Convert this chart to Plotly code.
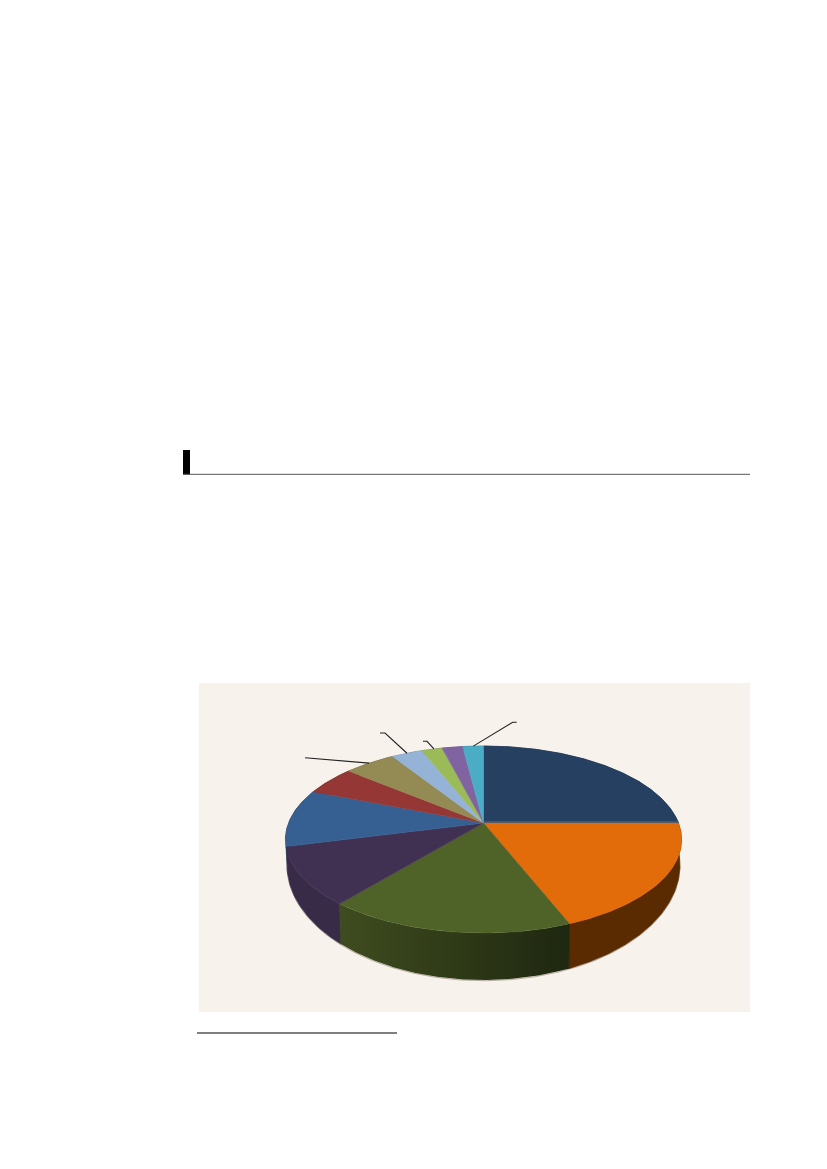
import math
import plotly.graph_objects as go

# Slice shares in percent, clockwise from 12 o'clock
slice_names = ["A", "B", "C", "D", "E", "F", "G", "H", "I", "J", "K"]
slice_values = [25, 19, 17, 10, 10, 5, 5, 3, 2, 2, 2]
top_colors = ["#254061", "#E26B0A", "#4F6228", "#403152", "#366092", "#953735",
              "#948A54", "#95B3D7", "#9BBB59", "#8064A2", "#4BACC6"]
side_colors = ["#16263a", "#5A2B00", "#2F3A18", "#382B48", "#203a58", "#592120",
               "#595332", "#597081", "#5d7035", "#4d3c61", "#2d6777"]

# Page frame (pixels)
W, H = 827, 1169
CX, CY = 483.5, 823
BX, AY, K = 195.0, 90.6, 0.1765   # perspective projection of the disc
DEPTH, BOTTOM_X, BOTTOM_Y = 21.7, 0.992, 1.23


def project(deg, bottom=False):
    """Clockwise angle from 12 o'clock -> page position on the tilted disc."""
    a = math.radians(deg)
    u, v = math.sin(a), -math.cos(a)
    d = 1 - K * v
    x, y = BX * u / d, AY * v / d
    if bottom:
        return CX + x * BOTTOM_X, CY + y * BOTTOM_Y + DEPTH
    return CX + x, CY + y


def arc(a0, a1, bottom=False):
    n = max(2, int(abs(a1 - a0) * 2))
    pts = [project(a0 + (a1 - a0) * i / n, bottom) for i in range(n + 1)]
    return [p[0] for p in pts], [p[1] for p in pts]


total = sum(slice_values)
edges = [0.0]
for val in slice_values:
    edges.append(edges[-1] + 360.0 * val / total)

fig = go.Figure()

# soft edge below the disc
sx, sy = arc(90, 270, True)
fig.add_trace(go.Scatter(x=sx, y=[v + 0.7 for v in sy], mode="lines",
                         line=dict(color="#b5aca2", width=1), hoverinfo="skip", showlegend=False))

# Side wall
for i, name in enumerate(slice_names):
    tx, ty = arc(edges[i], edges[i + 1])
    bx, by = arc(edges[i + 1], edges[i], True)
    kw = dict(fillcolor=side_colors[i])
    if i == 2:
        kw = dict(fillgradient=dict(type="horizontal",
                                    colorscale=[[0, "#3F4C1F"], [0.5, "#2F3A17"], [1, "#1E2710"]]))
    fig.add_trace(go.Scatter(x=tx + bx, y=ty + by, mode="lines", fill="toself",
                             line=dict(color=side_colors[i] if i != 2 else "rgba(0,0,0,0)", width=0.5),
                             hoverinfo="skip", showlegend=False, name=name, **kw))

# close the seams either side of the shaded wall
for deg, col in ((edges[3], "#3A4620"), (edges[2], "#1E2710")):
    p0, p1 = project(deg), project(deg, True)
    fig.add_trace(go.Scatter(x=[p0[0], p1[0]], y=[p0[1], p1[1]], mode="lines",
                             line=dict(color=col, width=1), hoverinfo="skip", showlegend=False))

# Top face
for i, name in enumerate(slice_names):
    rx, ry = arc(edges[i], edges[i + 1])
    fig.add_trace(go.Scatter(x=[CX] + rx + [CX], y=[CY] + ry + [CY], mode="lines", fill="toself",
                             fillcolor=top_colors[i],
                             line=dict(color=top_colors[i], width=0.5),
                             hoverinfo="skip", showlegend=False, name=name))

# thin edge between the first and second slices
ex, ey = project(edges[1])
fig.add_trace(go.Scatter(x=[CX, ex], y=[CY - 1, ey - 1], mode="lines",
                         line=dict(color="#55606F", width=1.3), hoverinfo="skip", showlegend=False))

# Leader lines: rim end comes from the slice, outer ends from the page
leaders = [
    (6, 0.49, [(305, 757.7)]),
    (7, 0.50, [(380, 733), (385, 733)]),
    (8, 0.60, [(423, 741.3), (427, 741.3)]),
    (10, 0.51, [(516.7, 722.3), (512.7, 722.3)]),
]
for idx, frac, outer in leaders:
    px, py = project(edges[idx] + (edges[idx + 1] - edges[idx]) * frac)
    xs = [p[0] for p in outer] + [px]
    ys = [p[1] for p in outer] + [py]
    fig.add_trace(go.Scatter(x=xs, y=ys, mode="lines", line=dict(color="#222222", width=1.1),
                             hoverinfo="skip", showlegend=False))

fig.update_layout(
    width=W, height=H, autosize=False,
    margin=dict(l=0, r=0, t=0, b=0),
    paper_bgcolor="white", plot_bgcolor="white",
    xaxis=dict(range=[0, W], visible=False, fixedrange=True),
    yaxis=dict(range=[H, 0], visible=False, fixedrange=True),
    shapes=[
        dict(type="rect", layer="below", x0=199, x1=750, y0=683, y1=1012,
             fillcolor="#F7F2EC", line=dict(width=0)),
        dict(type="rect", layer="below", x0=183, x1=190, y0=450, y1=474.5,
             fillcolor="#000000", line=dict(width=0)),
        dict(type="line", layer="below", x0=183, x1=750, y0=474.3, y1=474.3,
             line=dict(color="#555555", width=1)),
        dict(type="line", layer="below", x0=197, x1=397, y0=1033, y1=1033,
             line=dict(color="#555555", width=1.3)),
    ],
)

fig.write_html("out.html", config=dict(displayModeBar=False),
               post_script="document.body.style.margin='0';document.body.style.overflow='hidden';")
